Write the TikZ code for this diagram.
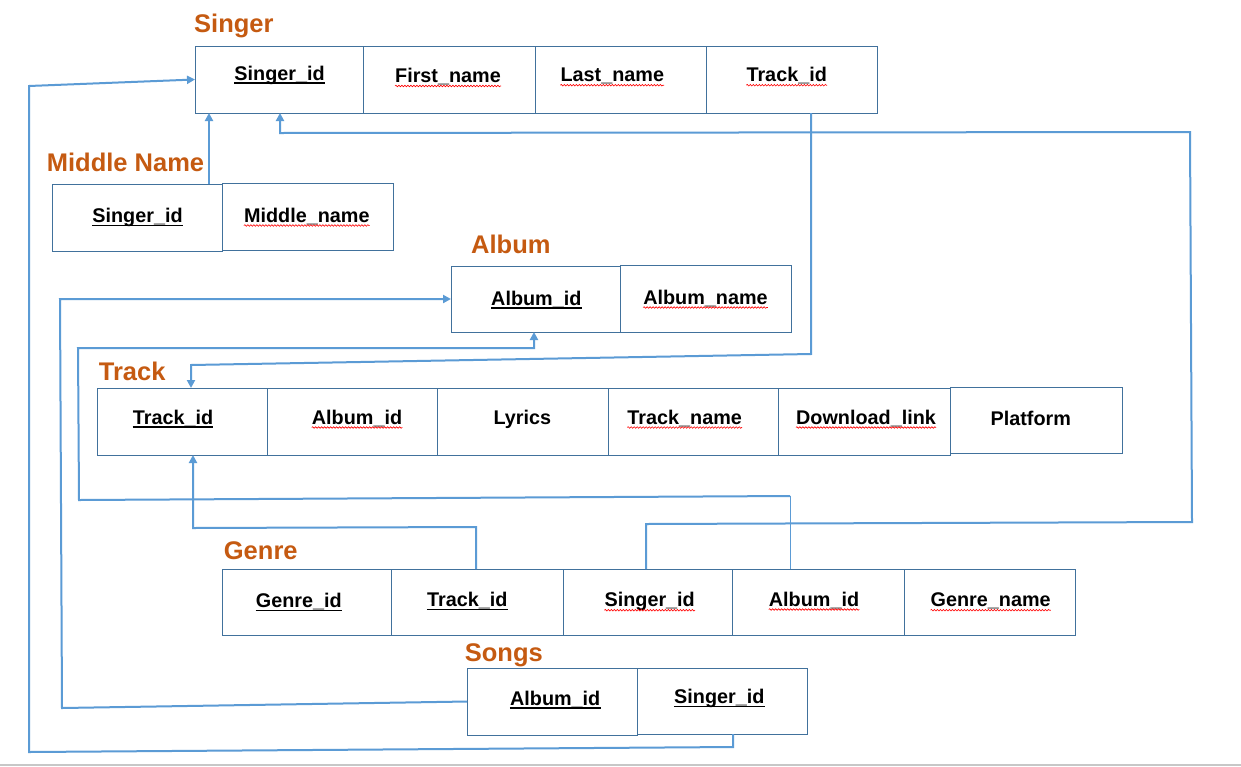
\documentclass[tikz,border=0pt]{standalone}
\usepackage{fontspec}
\setmainfont{Liberation Sans}
\usetikzlibrary{arrows.meta,decorations.pathmorphing,fit}
\definecolor{ttl}{HTML}{C55A11}
\definecolor{cellc}{HTML}{41719C}
\definecolor{conc}{HTML}{5B9BD5}
\begin{document}
\begin{tikzpicture}[x=1pt,y=-1pt,
 cell/.style={draw=cellc, line width=1pt, inner sep=0pt, outer sep=0pt},
 title/.style={anchor=base west, inner sep=0pt, text=ttl, font=\fontsize{25.5}{30}\selectfont\bfseries},
 fld/.style={anchor=base, inner sep=0pt, font=\fontsize{19.8}{24}\selectfont\bfseries},
 conn/.style={draw=conc, line width=2pt},
 arr/.style={conn, -{Triangle[length=8pt,width=8pt]}},
 keyline/.style={line width=1.5pt, black},
 spell/.style={draw=red, line width=0.6pt, decorate, decoration={snake, segment length=3pt, amplitude=0.8pt}},
]
\fill[white] (0,0) rectangle (1241,766);
\useasboundingbox (0,0) rectangle (1241,766);
\fill[black!22] (0,764) rectangle (1241,766);

% Singer
\node[title] (tSinger) at (194,32.3) {Singer};
\node[cell, fit={(195,46)(363,113)}] (S1) {};
\node[cell, fit={(363,46)(535,113)}] (S2) {};
\node[cell, fit={(535,46)(706,113)}] (S3) {};
\node[cell, fit={(706,46)(877,113)}] (S4) {};
\node[fld] (tS1) at (279.6,80) {Singer\_id};
\node[fld] (tS2) at (448,82.5) {First\_name};
\node[fld] (tS3) at (612.3,81.7) {Last\_name};
\node[fld] (tS4) at (786.7,81.7) {Track\_id};

% Middle Name
\node[title] (tMiddle) at (46.7,171.7) {Middle Name};
\node[cell, fit={(52,184)(222,251)}] (M1) {};
\node[cell, fit={(222,183)(393,250)}] (M2) {};
\node[fld] (tM1) at (137.5,222.7) {Singer\_id};
\node[fld] (tM2) at (306.8,222) {Middle\_name};

% Album
\node[title] (tAlbum) at (471,253.3) {Album};
\node[cell, fit={(451,266)(620,332)}] (A1) {};
\node[cell, fit={(620,265)(791,332)}] (A2) {};
\node[fld] (tA1) at (536.3,305) {Album\_id};
\node[fld] (tA2) at (705.5,304) {Album\_name};

% Track
\node[title] (tTrack) at (98.7,380) {Track};
\node[cell, fit={(97,388)(267,455)}] (T1) {};
\node[cell, fit={(267,388)(437,455)}] (T2) {};
\node[cell, fit={(437,388)(608,455)}] (T3) {};
\node[cell, fit={(608,388)(778,455)}] (T4) {};
\node[cell, fit={(778,388)(950,455)}] (T5) {};
\node[cell, fit={(950,387)(1122,453)}] (T6) {};
\node[fld] (tT1) at (173,424) {Track\_id};
\node[fld] (tT2) at (357,424) {Album\_id};
\node[fld] (tT3) at (522.3,424.3) {Lyrics};
\node[fld] (tT4) at (684.7,424) {Track\_name};
\node[fld] (tT5) at (866,424) {Download\_link};
\node[fld] (tT6) at (1030.8,425.7) {Platform};

% Genre
\node[title] (tGenre) at (223.7,559) {Genre};
\node[cell, fit={(222,569)(391,635)}] (G1) {};
\node[cell, fit={(391,569)(563,635)}] (G2) {};
\node[cell, fit={(563,569)(732,635)}] (G3) {};
\node[cell, fit={(732,569)(904,635)}] (G4) {};
\node[cell, fit={(904,569)(1075,635)}] (G5) {};
\node[fld] (tG1) at (298.8,607.7) {Genre\_id};
\node[fld] (tG2) at (467.3,606.7) {Track\_id};
\node[fld] (tG3) at (649.7,606.7) {Singer\_id};
\node[fld] (tG4) at (814,606) {Album\_id};
\node[fld] (tG5) at (990.7,606.7) {Genre\_name};

% Songs
\node[title] (tSongs) at (464.7,661.7) {Songs};
\node[cell, fit={(467,668)(637,735)}] (O1) {};
\node[cell, fit={(637,668)(807,734)}] (O2) {};
\node[fld] (tO1) at (555.2,705) {Album\_id};
\node[fld] (tO2) at (719.3,703.3) {Singer\_id};

% underlines
\foreach \n in {tS1,tM1,tA1,tT1,tG1,tG2,tO1,tO2}
  \draw[keyline] ([yshift=-3pt]\n.base west) -- ([yshift=-3pt]\n.base east);
\foreach \n in {tS2,tS3,tS4,tM2,tA2,tT2,tT4,tT5,tG3,tG4,tG5}
  \draw[spell] ([yshift=-3.5pt]\n.base west) -- ([yshift=-3.5pt]\n.base east);

% connectors
\coordinate (c1a) at (733,747);
\coordinate (c1b) at (29,752);
\coordinate (c1c) at (29,86);
\draw[arr] (c1a |- O2.south) -- (c1a) -- (c1b) -- (c1c) -- (S1.west);

\coordinate (c2) at (209,0);
\draw[arr] (c2 |- M1.north) -- (c2 |- S1.south);

\coordinate (c3a) at (811,354);
\coordinate (c3b) at (191,365);
\draw[arr] (c3a |- S4.south) -- (c3a) -- (c3b) -- (c3b |- T1.north);

\coordinate (c4a) at (476,527);
\coordinate (c4b) at (193,528);
\draw[arr] (c4a |- G2.north) -- (c4a) -- (c4b) -- (c4b |- T1.south);

\coordinate (c5a) at (646,524);
\coordinate (c5b) at (1192,522);
\coordinate (c5c) at (1190,132);
\coordinate (c5d) at (280,133);
\draw[arr] (c5a |- G3.north) -- (c5a) -- (c5b) -- (c5c) -- (c5d) -- (c5d |- S1.south);

\coordinate (c6a) at (790,496);
\coordinate (c6b) at (79,500);
\coordinate (c6c) at (78,348);
\coordinate (c6d) at (534,348);
\draw[conn, line width=1pt] (c6a |- G4.north) -- (c6a);
\draw[arr] (c6a) -- (c6b) -- (c6c) -- (c6d) -- (c6d |- A1.south);

\coordinate (c7a) at (62,708);
\coordinate (c7b) at (60,299);
\draw[arr] (O1.west) -- (c7a) -- (c7b) -- (A1.west);
\end{tikzpicture}
\end{document}
